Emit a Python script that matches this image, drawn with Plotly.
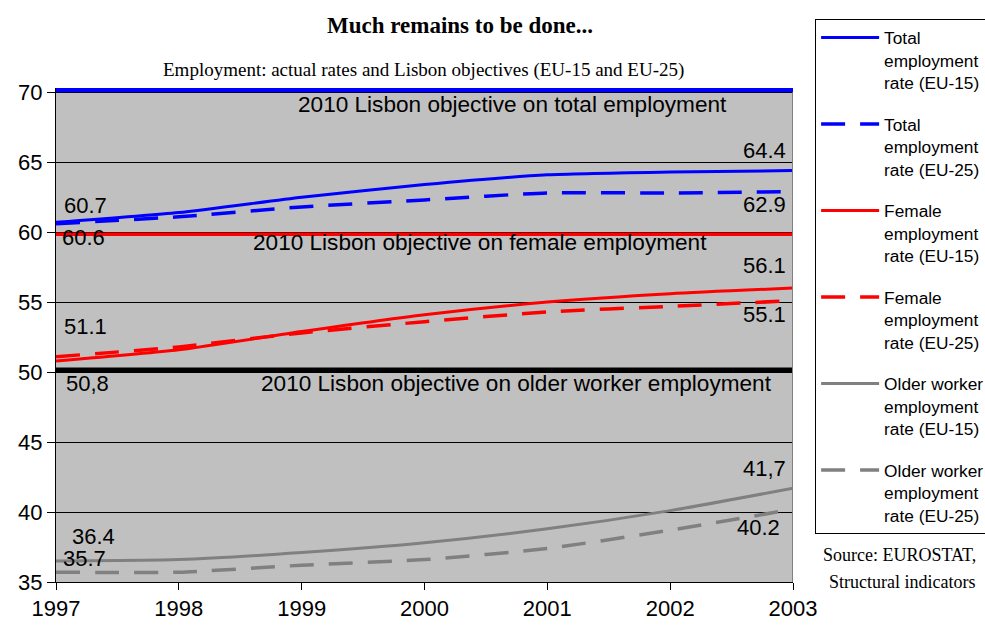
import plotly.graph_objects as go

years = [1997, 1998, 1999, 2000, 2001, 2002, 2003]

total_eu15 = [60.7, 61.4, 62.5, 63.4, 64.1, 64.3, 64.4]
total_eu25 = [60.6, 61.1, 61.8, 62.3, 62.8, 62.8, 62.9]
female_eu15 = [50.8, 51.6, 52.9, 54.1, 55.0, 55.6, 56.0]
female_eu25 = [51.1, 51.8, 52.8, 53.6, 54.3, 54.7, 55.1]
older_eu15 = [36.5, 36.6, 37.1, 37.8, 38.8, 40.1, 41.7]
older_eu25 = [35.7, 35.7, 36.2, 36.6, 37.4, 38.7, 40.2]

obj_total = 70.15
obj_female = 59.85
obj_older = 50.15

yticks = [35, 40, 45, 50, 55, 60, 65, 70]

ARIAL = "Liberation Sans, Arial, sans-serif"
TIMES = "Liberation Serif, Times New Roman, serif"

BLUE = "#0000FF"
RED = "#FF0000"
GRAY = "#808080"
DASH = "24px,15px"

fig = go.Figure()

# objective lines
for val, col, w in [(obj_total, BLUE, 4.5), (obj_female, RED, 3.5), (obj_older, "#000000", 5)]:
    fig.add_trace(go.Scatter(x=[years[0], years[-1]], y=[val, val], mode="lines",
                             line=dict(color=col, width=w), showlegend=False, hoverinfo="skip"))

series = [
    ("Total<br>employment<br>rate (EU-15)", total_eu15, BLUE, "solid", 3),
    ("Total<br>employment<br>rate (EU-25)", total_eu25, BLUE, DASH, 3.5),
    ("Female<br>employment<br>rate (EU-15)", female_eu15, RED, "solid", 3),
    ("Female<br>employment<br>rate (EU-25)", female_eu25, RED, DASH, 3.5),
    ("Older worker<br>employment<br>rate (EU-15)", older_eu15, GRAY, "solid", 3),
    ("Older worker<br>employment<br>rate (EU-25)", older_eu25, GRAY, DASH, 3.5),
]
for name, vals, col, dash, w in series:
    fig.add_trace(go.Scatter(x=years, y=vals, mode="lines", name=name, legendgroup=name,
                             line=dict(color=col, width=w, dash=dash, shape="spline", smoothing=0.6)))

ann = []
def lab(text, x, y, xanchor, xshift, yshift):
    ann.append(dict(text=text, x=x, y=y, xref="x", yref="y", xanchor=xanchor, yanchor="middle",
                    xshift=xshift, yshift=yshift, showarrow=False,
                    font=dict(family=ARIAL, size=22, color="black")))

lab("60.7", years[0], total_eu15[0], "left", 6, 17)
lab("60.6", years[0], total_eu25[0], "left", 4, -13.5)
lab("64.4", years[-1], total_eu15[-1], "right", -5, 20)
lab("62.9", years[-1], total_eu25[-1], "right", -5, -12.5)
lab("51.1", years[0], female_eu25[0], "left", 6, 30.5)
lab("50,8", years[0], female_eu15[0], "left", 8, -23)
lab("56.1", years[-1], female_eu15[-1], "right", -5, 22.5)
lab("55.1", years[-1], female_eu25[-1], "right", -5, -13.5)
lab("36.4", years[0], 36.4, "left", 14, 26)
lab("35.7", years[0], older_eu25[0], "left", 5, 14)
lab("41,7", years[-1], older_eu15[-1], "right", -5, 20)
lab("40.2", years[-1], older_eu25[-1], "right", -11, -18)

for text, px, val, ys in [("2010 Lisbon objective on total employment", 0.62, obj_total, -14),
                          ("2010 Lisbon objective on female employment", 0.575, obj_female, -8),
                          ("2010 Lisbon objective on older worker employment", 0.6255, obj_older, -14)]:
    ann.append(dict(text=text, x=px, y=val, xref="paper", yref="y", xanchor="center", yanchor="middle",
                    yshift=ys, showarrow=False, font=dict(family=ARIAL, size=22.6, color="black")))

ann.append(dict(text="<b>Much remains to be done...</b>", x=0.548, y=1.1275, xref="paper", yref="paper",
                xanchor="center", yanchor="middle", showarrow=False,
                font=dict(family=TIMES, size=23, color="black")))
ann.append(dict(text="Employment: actual rates and Lisbon objectives (EU-15 and EU-25)", x=0.4993, y=1.0364,
                xref="paper", yref="paper", xanchor="center", yanchor="middle", showarrow=False,
                font=dict(family=TIMES, size=19, color="black")))
ann.append(dict(text="Source: EUROSTAT,", x=1.038, y=0.0547, xref="paper", yref="paper",
                xanchor="left", yanchor="middle", showarrow=False,
                font=dict(family=TIMES, size=18, color="black")))
ann.append(dict(text="Structural indicators", x=1.0457, y=0.0, xref="paper", yref="paper",
                xanchor="left", yanchor="middle", showarrow=False,
                font=dict(family=TIMES, size=18, color="black")))

shapes = [
    dict(type="rect", xref="x", yref="y", x0=years[0], x1=years[-1], y0=yticks[0], y1=yticks[-1],
         fillcolor="#C0C0C0", line=dict(width=0), layer="below"),
    dict(type="line", xref="x", yref="y", x0=years[-1], x1=years[-1], y0=yticks[0], y1=yticks[-1],
         line=dict(color=GRAY, width=2), layer="above"),
    dict(type="line", xref="x", yref="y", x0=years[0], x1=years[-1], y0=yticks[-1], y1=yticks[-1],
         line=dict(color=GRAY, width=1), layer="below"),
]

fig.update_layout(
    width=985, height=625,
    margin=dict(l=56, r=192, t=88, b=43, pad=0, autoexpand=False),
    paper_bgcolor="white", plot_bgcolor="white",
    font=dict(family=ARIAL, color="black"),
    annotations=ann, shapes=shapes,
    legend=dict(x=1.03, xanchor="left", y=1.14, yanchor="top", bordercolor="black", borderwidth=1,
                bgcolor="white", font=dict(family=ARIAL, size=17.3, color="black"),
                traceorder="grouped", tracegroupgap=16, valign="top", itemwidth=58, maxheight=600),
    xaxis=dict(range=[years[0], years[-1]], tickmode="array", tickvals=years, ticktext=[str(y) for y in years],
               showgrid=False, zeroline=False, showline=True, linecolor="black", linewidth=1,
               ticks="outside", ticklen=7, tickcolor="black", tickfont=dict(family=ARIAL, size=22)),
    yaxis=dict(range=[35, 70.3], tickmode="array", tickvals=yticks, showgrid=True, gridcolor="black",
               gridwidth=1, zeroline=False, showline=True, linecolor="black", linewidth=1,
               ticks="outside", ticklen=8, tickcolor="black", tickfont=dict(family=ARIAL, size=22)),
)

fig.write_html("out.html", config={"displayModeBar": False},
               post_script="document.body.style.margin='0';document.body.style.overflow='hidden';")
